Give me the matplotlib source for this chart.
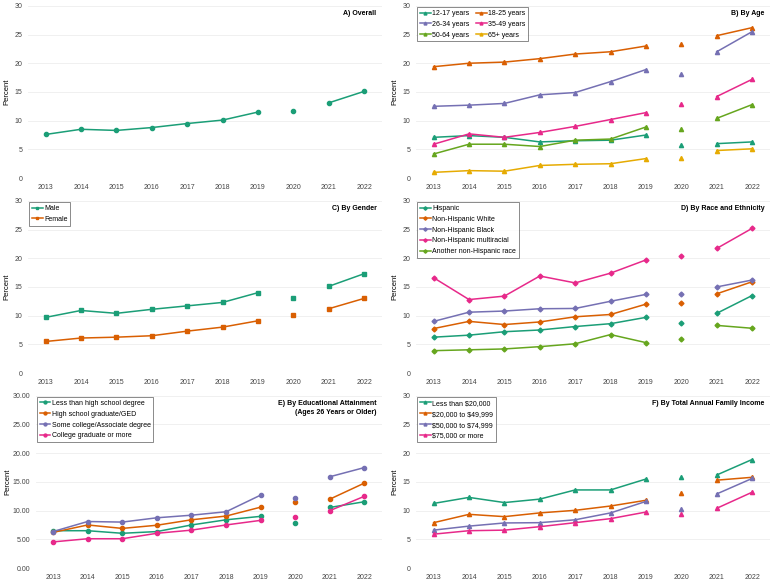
import numpy as np
import matplotlib.pyplot as plt

plt.rcParams['font.family'] = ['Liberation Sans', 'DejaVu Sans']

years = [2013, 2014, 2015, 2016, 2017, 2018, 2019, 2020, 2021, 2022]

# A) Overall
overall = [7.6, 8.5, 8.3, 8.8, 9.5, 10.1, 11.5, 11.6, 13.1, 15.1]

# B) By age
age_labels = ['12-17 years', '18-25 years', '26-34 years', '35-49 years', '50-64 years', '65+ years']
age_12_17 = [7.1, 7.4, 7.1, 6.3, 6.5, 6.6, 7.5, 5.8, 6.0, 6.3]
age_18_25 = [19.4, 20.0, 20.2, 20.8, 21.6, 22.0, 23.0, 23.4, 24.8, 26.2]
age_26_34 = [12.5, 12.7, 13.0, 14.5, 14.9, 16.8, 18.9, 18.2, 22.0, 25.5]
age_35_49 = [5.9, 7.7, 7.1, 7.95, 9.0, 10.2, 11.4, 12.9, 14.2, 17.2]
age_50_64 = [4.2, 5.9, 5.9, 5.5, 6.6, 6.8, 8.9, 8.5, 10.4, 12.8]
age_65_up = [1.0, 1.3, 1.2, 2.2, 2.4, 2.5, 3.4, 3.5, 4.8, 5.1]

# C) By gender
gender_labels = ['Male', 'Female']
male = [9.7, 10.9, 10.4, 11.1, 11.7, 12.3, 14.0, 13.0, 15.1, 17.3]
female = [5.5, 6.1, 6.25, 6.5, 7.3, 8.0, 9.1, 10.1, 11.2, 13.0]

# D) By race and ethnicity
race_labels = ['Hispanic', 'Non-Hispanic White', 'Non-Hispanic Black',
               'Non-Hispanic multiracial', 'Another non-Hispanic race']
hispanic = [6.25, 6.6, 7.2, 7.5, 8.1, 8.6, 9.7, 8.8, 10.4, 13.5]
nh_white = [7.75, 9.0, 8.45, 8.9, 9.8, 10.2, 12.0, 12.2, 13.8, 15.9]
nh_black = [9.0, 10.6, 10.8, 11.2, 11.25, 12.5, 13.7, 13.7, 15.0, 16.2]
nh_multi = [16.6, 12.8, 13.4, 16.9, 15.7, 17.4, 19.7, 20.3, 21.7, 25.2]
nh_other = [3.9, 4.05, 4.2, 4.6, 5.1, 6.7, 5.3, 5.85, 8.3, 7.8]

# E) By educational attainment
edu_labels = ['Less than high school degree', 'High school graduate/GED',
              'Some college/Associate degree', 'College graduate or more']
edu_less_hs = [6.5, 6.5, 6.05, 6.35, 7.5, 8.4, 9.0, 7.9, 10.55, 11.55]
edu_hs = [6.2, 7.5, 6.9, 7.45, 8.4, 9.05, 10.6, 11.55, 12.0, 14.8]
edu_some_col = [6.35, 8.1, 8.0, 8.75, 9.2, 9.8, 12.7, 12.2, 15.9, 17.5]
edu_col_grad = [4.55, 5.1, 5.1, 6.05, 6.6, 7.5, 8.3, 8.9, 10.0, 12.5]

# F) By total annual family income
inc_labels = ['Less than \\$20,000', '\\$20,000 to \\$49,999',
              '\\$50,000 to \\$74,999', '\\$75,000 or more']
inc_lt20 = [11.25, 12.3, 11.4, 12.0, 13.6, 13.6, 15.5, 15.8, 16.2, 18.9]
inc_20_50 = [7.9, 9.35, 8.95, 9.6, 10.05, 10.8, 11.8, 13.0, 15.3, 15.8]
inc_50_75 = [6.6, 7.3, 7.85, 7.9, 8.4, 9.6, 11.6, 10.3, 12.9, 15.6]
inc_75up = [5.9, 6.5, 6.6, 7.2, 7.9, 8.6, 9.75, 9.4, 10.4, 13.2]

colors = ['#1b9e77', '#d95f02', '#7570b3', '#e7298a', '#66a61e', '#e6ab02']

fig = plt.figure(figsize=(7.76, 5.82), dpi=100)

W = 0.456
H = 0.296
positions = {
    'A': [0.036, 0.694, W, H],
    'B': [0.536, 0.694, W, H],
    'C': [0.036, 0.359, W, H],
    'D': [0.536, 0.359, W, H],
    'E': [0.046, 0.024, 0.446, H],
    'F': [0.536, 0.024, W, H],
}


def draw_panel(key, title, series, labels, marker, ms=3, legend_cols=1, decimals=False):
    ax = fig.add_axes(positions[key])
    yrs = np.array(years)
    gap = yrs == 2020
    handles = []
    for i, vals in enumerate(series):
        v = np.array(vals, dtype=float)
        line_v = v.copy()
        line_v[gap] = np.nan
        c = colors[i]
        lab = labels[i] if labels else None
        h, = ax.plot(yrs, line_v, color=c, lw=1.1, marker=marker, ms=ms, label=lab)
        ax.plot(yrs[gap], v[gap], color=c, lw=0, marker=marker, ms=ms)
        handles.append(h)
    ax.set_xlim(2012.5, 2022.5)
    ax.set_ylim(0, 30)
    ax.set_xticks(years)
    ax.set_yticks([0, 5, 10, 15, 20, 25, 30])
    if decimals:
        ax.set_yticklabels(['%.2f' % t for t in [0, 5, 10, 15, 20, 25, 30]])
    ax.tick_params(length=0, labelsize=5, labelcolor='#444444', pad=4)
    ax.grid(axis='y', color='#eeeeee', lw=0.6)
    ax.set_axisbelow(True)
    for s in ax.spines.values():
        s.set_visible(False)
    ax.set_ylabel('Percent', fontsize=5.5, labelpad=3)
    if key == 'E':
        ax.yaxis.set_label_coords(-0.07, 0.5)
    ax.text(0.985, 0.975, title, transform=ax.transAxes, ha='right', va='top',
            fontsize=5, fontweight='bold', linespacing=1.3)
    if labels:
        if legend_cols == 2:
            # row-wise order
            order = [0, 2, 4, 1, 3, 5]
            hs = [handles[j] for j in order]
            ls = [labels[j] for j in order]
        else:
            hs, ls = handles, labels
        leg = ax.legend(hs, ls, loc='upper left', ncol=legend_cols, fontsize=5.0,
                        frameon=True, fancybox=False, handlelength=1.5,
                        handletextpad=0.2, columnspacing=1.0, borderpad=0.4,
                        labelspacing=0.55, borderaxespad=0.2, markerscale=0.7)
        leg.get_frame().set_edgecolor('#555555')
        leg.get_frame().set_linewidth(0.6)
    return ax


draw_panel('A', 'A) Overall', [overall], None, 'o')
draw_panel('B', 'B) By Age', [age_12_17, age_18_25, age_26_34, age_35_49, age_50_64, age_65_up],
           age_labels, '^', legend_cols=2)
draw_panel('C', 'C) By Gender', [male, female], gender_labels, 's')
draw_panel('D', 'D) By Race and Ethnicity', [hispanic, nh_white, nh_black, nh_multi, nh_other],
           race_labels, 'D', ms=2.5)
draw_panel('E', 'E) By Educational Attainment\n(Ages 26 Years or Older)',
           [edu_less_hs, edu_hs, edu_some_col, edu_col_grad], edu_labels, 'o', decimals=True)
draw_panel('F', 'F) By Total Annual Family Income', [inc_lt20, inc_20_50, inc_50_75, inc_75up],
           inc_labels, '^')

plt.savefig('out.png', dpi=100)
plt.close()
